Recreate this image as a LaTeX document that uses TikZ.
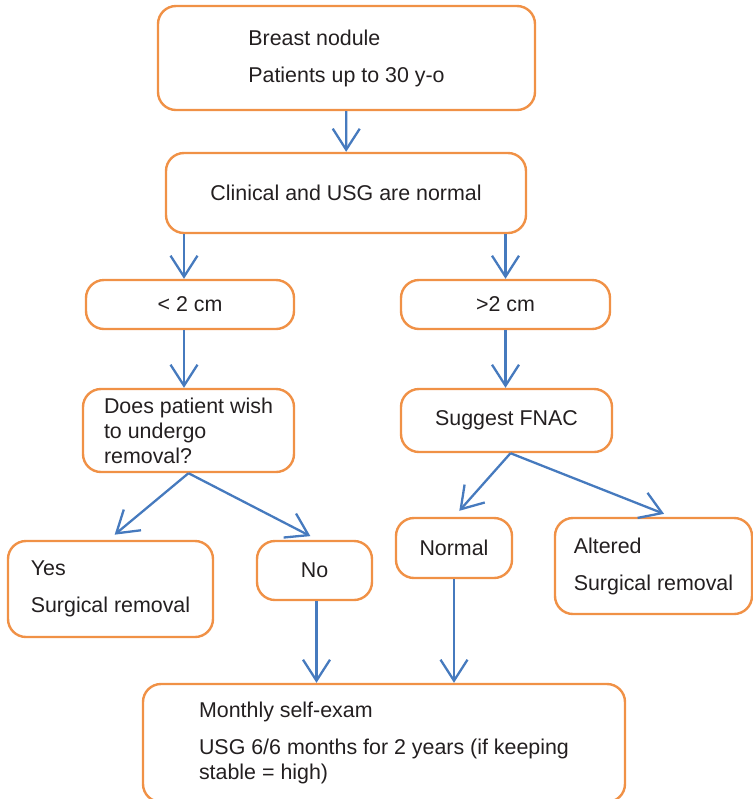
\documentclass[tikz,border=0pt]{standalone}
\usepackage{fontspec}
\setmainfont{Liberation Sans}
\usepackage{tikz}
\usetikzlibrary{arrows.meta}
\usepackage{xcolor}
\definecolor{boxorange}{RGB}{240,145,70}
\definecolor{arrowblue}{RGB}{70,122,190}
\definecolor{textgray}{RGB}{35,31,32}

\begin{document}
\begin{tikzpicture}[x=0.5pt,y=-0.5pt,
        box/.style={draw=boxorange,line width=1.2pt,rounded corners=9pt,align=left,
            text=textgray,inner sep=0pt,font=\fontsize{10.7}{12.5}\selectfont},
        arr/.style={draw=arrowblue,line width=1.15pt,-{Straight Barb[length=10.5pt,width=13.5pt,line width=1.15pt]}}]
        \useasboundingbox (0,0) rectangle (753,799);

        \node[box,minimum width=188.5pt,minimum height=52pt] (nodule) at (346.5,58)
            {Breast nodule\\[6pt]Patients up to 30 y-o};
        \node[box,minimum width=180pt,minimum height=40pt] (clinical) at (346,193)
            {Clinical and USG are normal};
        \node[box,minimum width=104pt,minimum height=24.5pt] (small) at (190,304.5) {< 2 cm};
        \node[box,minimum width=104.5pt,minimum height=24.5pt] (large) at (505.5,304.5) {>2 cm};
        \node[box,minimum width=105.5pt,minimum height=41.5pt] (wish) at (188.5,430.5)
            {Does patient wish\\to undergo\\removal?};
        \node[box,minimum width=105.5pt,minimum height=31.5pt] (fnac) at (506.5,420.5) {Suggest FNAC};
        \node[box,minimum width=102.5pt,minimum height=48pt] (yes) at (110.5,589)
            {Yes\\[6pt]Surgical removal};
        \node[box,minimum width=57.5pt,minimum height=29.5pt] (no) at (314.5,570.5) {No};
        \node[box,minimum width=58pt,minimum height=30pt] (normal) at (454,548) {Normal};
        \node[box,minimum width=98.5pt,minimum height=48pt] (altered) at (653.5,566)
            {Altered\\[6pt]Surgical removal};
        \node[box,minimum width=241pt,minimum height=59pt] (followup) at (384,743)
            {Monthly self-exam\\[6pt]USG 6/6 months for 2 years (if keeping\\stable = high)};

        \draw[arr] (nodule) -- (clinical);
        \draw[arr] ([xshift=-3pt]clinical.south -| small) -- ([xshift=-3pt]small.north);
        \draw[arr] (clinical.south -| large) -- (large);
        \draw[arr] ([xshift=-3pt]small.south) -- ([xshift=-3pt]small.south |- wish.north);
        \draw[arr] (large) -- (large |- fnac.north);
        \draw[arr,shorten >=4pt] (wish.south) -- ([xshift=-1pt]yes.north);
        \draw[arr,shorten >=4pt] (wish.south) -- ([xshift=1.5pt]no.north);
        \draw[arr,shorten >=4pt] ([xshift=2pt]fnac.south) -- (normal.north);
        \draw[arr,shorten >=4pt] ([xshift=2pt]fnac.south) -- ([xshift=9pt]altered.north);
        \draw[arr] ([xshift=1pt]no.south) -- ([xshift=1pt]no.south |- followup.north);
        \draw[arr] (normal) -- (normal |- followup.north);
    \end{tikzpicture}
\end{document}
